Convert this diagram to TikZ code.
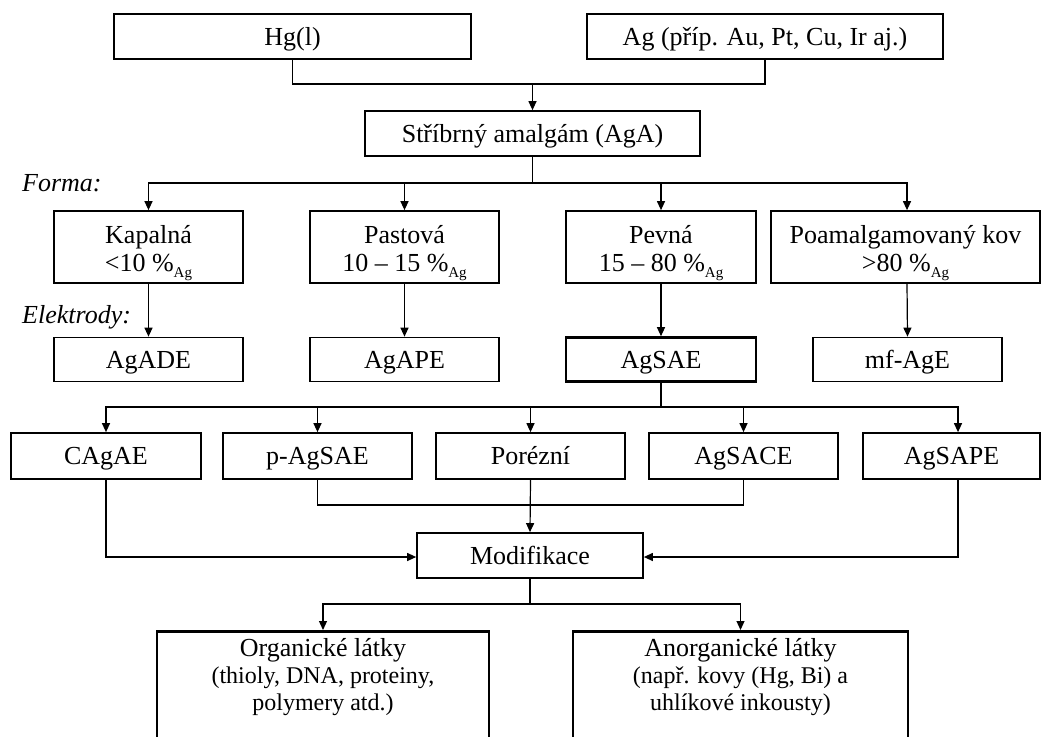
\documentclass[tikz,border=0pt]{standalone}
\usepackage{fontspec}
\setmainfont{Liberation Serif}
\usetikzlibrary{arrows.meta}
\newcommand{\agsub}{\raisebox{-0.22em}{\fontsize{15}{15}\selectfont Ag}}
\newcommand{\firststrut}{\rule{0pt}{30pt}}
\begin{document}
\begin{tikzpicture}[x=1pt,y=-1pt,
  box/.style={draw, line width=1.7pt, inner sep=0pt, minimum height=45pt, text height=19pt, text depth=2pt, font=\fontsize{26}{28}\selectfont},
  fbox/.style={draw, line width=1.7pt, inner sep=0pt, minimum height=72pt, align=center, font=\fontsize{26}{28}\selectfont},
  tbox/.style={box, line width=2.6pt},
  bbox/.style={draw, line width=2.6pt, inner sep=0pt, minimum height=150pt, anchor=north},
  btext/.style={anchor=north, inner sep=0pt, align=center, font=\fontsize{24}{27}\selectfont},
  conn/.style={line width=1.2pt},
  arr/.style={conn, -{Triangle[length=9pt,width=8pt]}},
  lbl/.style={anchor=west, inner sep=0pt, font=\fontsize{26}{28}\selectfont\itshape}]
\useasboundingbox (0,0) rectangle (1041,736);
\clip (0,0) rectangle (1041,736);
\fill[white] (0,0) rectangle (1041,736);

% top row
\node[box, minimum width=357pt] (hg) at (292.5,36.5) {Hg(l)};
\node[box, minimum width=356pt] (ag) at (765,36.5) {Ag (příp. Au, Pt, Cu, Ir aj.)};
\node[box, minimum width=335pt] (aga) at (532.5,133.5) {Stříbrný amalgám (AgA)};

% labels
\node[lbl] (forma) at (22,183) {Forma:};
\node[lbl] (elek) at (22,317) {Elektrody:};

% forma row
\node[fbox, minimum width=189pt] (kap) at (148.5,247) {\firststrut Kapalná\\<10 \%\agsub};
\node[fbox, minimum width=189pt] (pas) at (404.5,247) {\firststrut Pastová\\10 – 15 \%\agsub};
\node[fbox, minimum width=190pt] (pev) at (661,247) {\firststrut Pevná\\15 – 80 \%\agsub};
\node[fbox, minimum width=269pt] (poa) at (905.5,247) {\firststrut Poamalgamovaný kov\\>80 \%\agsub};

% electrodes row
\node[box, minimum width=189pt, minimum height=44pt] (agade) at (148.5,359.5) {AgADE};
\node[box, minimum width=189pt, minimum height=44pt] (agape) at (404.5,359.5) {AgAPE};
\node[tbox, minimum width=190pt, minimum height=44pt] (agsae) at (661,359.5) {AgSAE};
\node[box, minimum width=189pt, minimum height=44pt] (mfage) at (907.5,359.5) {mf-AgE};

% third row
\node[box, minimum width=190pt, minimum height=46pt] (cagae) at (106,456) {CAgAE};
\node[box, minimum width=189pt, minimum height=46pt] (pagsae) at (317.5,456) {p-AgSAE};
\node[box, minimum width=189pt, minimum height=46pt] (porez) at (530.5,456) {Porézní};
\node[box, minimum width=189pt, minimum height=46pt] (agsace) at (743.5,456) {AgSACE};
\node[box, minimum width=177pt, minimum height=46pt] (agsape) at (951.5,456) {AgSAPE};

% modifikace
\node[box, minimum width=226pt, minimum height=45pt] (mod) at (530,555.5) {Modifikace};

% bottom boxes
\node[bbox, minimum width=332pt] (org) at (323,630) {};
\node[bbox, minimum width=335pt] (anorg) at (740.5,630) {};
\node[btext] (orgt) at ([yshift=-8pt]org.north)
  {{\fontsize{26}{27}\selectfont Organické látky}\\(thioly, DNA, proteiny,\\polymery atd.)};
\node[btext] (anorgt) at ([yshift=-8pt]anorg.north)
  {{\fontsize{26}{27}\selectfont Anorganické látky}\\(např. kovy (Hg, Bi) a\\uhlíkové inkousty)};

% connectors
\coordinate (j1) at (532.5,84);
\draw[conn] (hg.south) |- (j1) -| (ag.south);
\draw[arr] (j1) -- (aga.north);

\coordinate (j2) at (532.5,183);
\draw[conn] (aga.south) -- (j2);
\draw[arr] (j2) -| (kap.north);
\draw[arr] (j2) -| (pas.north);
\draw[arr] (j2) -| (pev.north);
\draw[arr] (j2) -| ([xshift=1.5pt]poa.north);

\draw[arr] (kap.south) -- (agade.north);
\draw[arr] (pas.south) -- (agape.north);
\draw[arr] (pev.south) -- (agsae.north);
\draw[arr] ([xshift=1.5pt]poa.south) -- (mfage.north);

\coordinate (j3) at (661,407);
\draw[conn] (agsae.south) -- (j3);
\draw[arr] (j3) -| (cagae.north);
\draw[arr] (j3) -| (pagsae.north);
\draw[arr] (j3) -| (porez.north);
\draw[arr] (j3) -| (agsace.north);
\draw[arr] (j3) -| ([xshift=6.5pt]agsape.north);

\coordinate (j4) at (530.5,505);
\draw[conn] (pagsae.south) |- (j4) -| (agsace.south);
\draw[arr] (porez.south) -- (mod.north);
\draw[arr] (cagae.south) |- ([yshift=-1.5pt]mod.west);
\draw[arr] ([xshift=6.5pt]agsape.south) |- ([yshift=-1.5pt]mod.east);

\coordinate (j5) at (530,604);
\draw[conn] (mod.south) -- (j5);
\draw[arr] (j5) -| (org.north);
\draw[arr] (j5) -| (anorg.north);
\end{tikzpicture}
\end{document}
